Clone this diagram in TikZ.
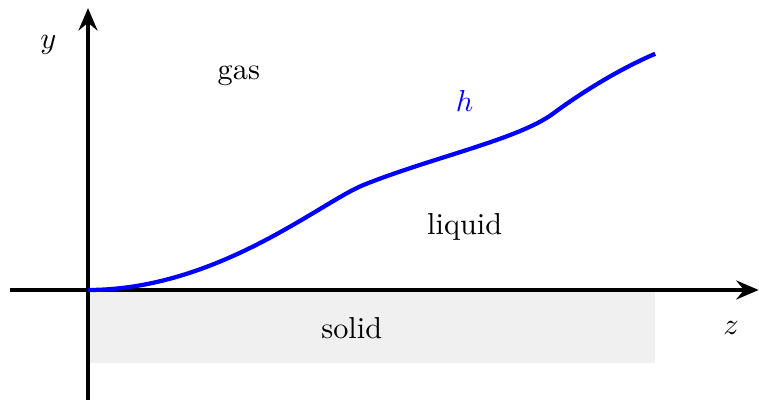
\documentclass[tikz,border=0pt]{standalone}
\usepackage{amsmath,amssymb}
\usepackage{xcolor}
\usepackage{tikz}
\usetikzlibrary{arrows.meta,positioning}

\begin{document}
\begin{tikzpicture}[
  axis/.style={-{Stealth[length=2.6mm,width=2.2mm,inset=0.9mm]},line width=1.3pt},
  front/.style={line width=1.4pt,blue},
  phase/.style={font=\normalsize}
]
\useasboundingbox (-1.021,-1.276) rectangle (7.784,3.364);
\fill[black!6] (0,0) rectangle (6.58,-0.85);
\coordinate (o) at (0,0);
\coordinate (xl) at (-0.9,0);
\coordinate (xr) at (7.78,0);
\coordinate (yb) at (0,-1.3);
\coordinate (yt) at (0,3.27);
\coordinate (m1) at (3.2,1.22);
\coordinate (m2) at (5.4,2.05);
\coordinate (e) at (6.58,2.74);
\draw[axis] (xl) -- (xr);
\draw[axis] (yb) -- (yt);
\draw[front] (o) .. controls (1.5,0) and (2.7,1.02) .. (m1)
  .. controls (4.0,1.54) and (5.0,1.75) .. (m2)
  .. controls (5.75,2.31) and (6.2,2.58) .. (e);
\node (ylab) at (-0.46,2.84) {$y$};
\node (zlab) at (7.46,-0.44) {$z$};
\node[phase] (gas) at (1.75,2.49) {gas};
\node[phase,text=blue] (hlab) at (4.37,2.19) {$h$};
\node[phase] (liquid) at (4.37,0.73) {liquid};
\node[phase] (solid) at (3.06,-0.44) {solid};
\end{tikzpicture}
\end{document}
